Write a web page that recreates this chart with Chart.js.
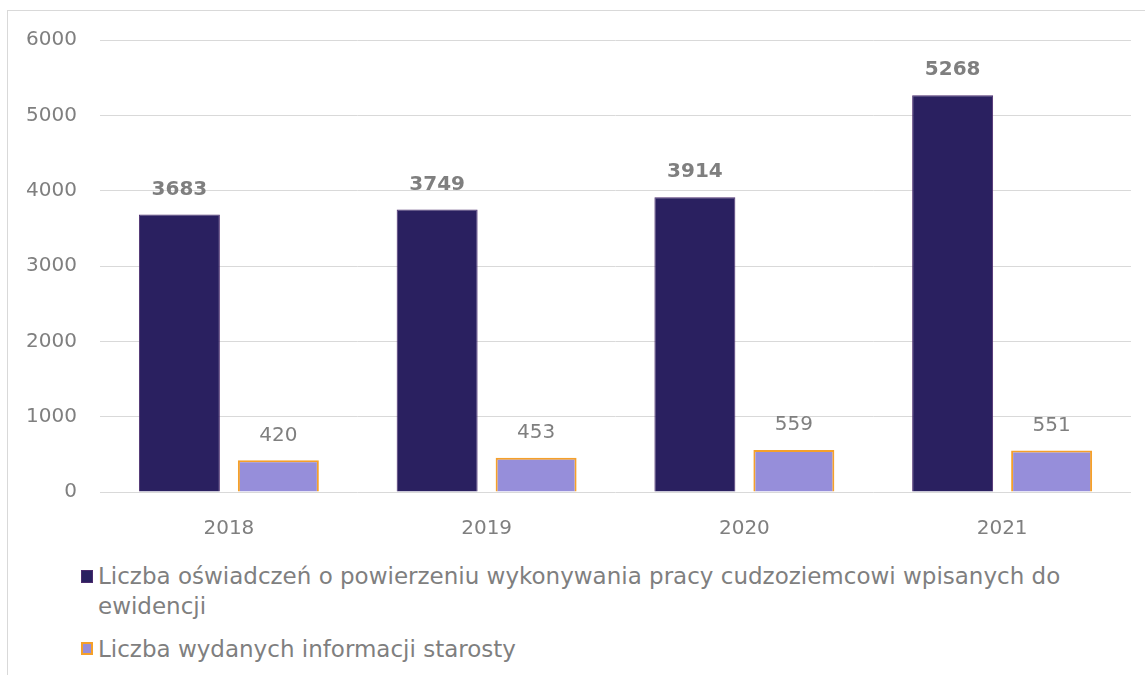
<!DOCTYPE html>
<html>
<head>
<meta charset="utf-8">
<script src="https://cdn.jsdelivr.net/npm/chart.js@4"></script>
<style>
  html, body { margin: 0; padding: 0; background: #fff; overflow: hidden; }
  body { width: 1145px; height: 675px; position: relative; font-family: "DejaVu Sans", sans-serif; }
  .lineTop { position: absolute; left: 7px; top: 10px; width: 1138px; height: 1px; background: #d9d9d9; }
  .lineLeft { position: absolute; left: 7px; top: 10px; width: 1px; height: 665px; background: #d9d9d9; }
  #wrap { position: absolute; left: 0; top: 0; width: 1145px; height: 540px; }
  .leg { position: absolute; left: 81px; color: #7f7f7f; font-size: 23px; line-height: 30px; white-space: nowrap; }
  .box { position: absolute; left: 0; width: 12px; height: 13px; box-sizing: border-box; }
  .txt { position: absolute; left: 17px; top: 0; }
</style>
</head>
<body>
<div class="lineTop"></div>
<div class="lineLeft"></div>
<div id="wrap"><canvas id="myChart" width="1145" height="540"></canvas></div>
<div class="leg" style="top:561px;">
  <div class="box" style="top:9px; background:#2a2060; border:1px solid #4b2c6e;"></div>
  <div class="txt" id="leg1"></div>
</div>
<div class="leg" style="top:634px;">
  <div class="box" style="top:8px; background:#968eda; border:2px solid #f5a02a;"></div>
  <div class="txt" id="leg2"></div>
</div>
<script>
const lata = ["2018", "2019", "2020", "2021"];
const oswiadczenia = [3683, 3749, 3914, 5268];
const informacje = [420, 453, 559, 551];
const nazwy = [
  "Liczba oświadczeń o powierzeniu wykonywania pracy cudzoziemcowi wpisanych do\newidencji",
  "Liczba wydanych informacji starosty",
];
const skalaY = [0, 1000, 2000, 3000, 4000, 5000, 6000];

document.getElementById("leg1").innerHTML = nazwy[0].replace("\n", "<br>");
document.getElementById("leg2").innerHTML = nazwy[1];

// etykiety wartosci nad slupkami
const etykiety = {
  id: "etykiety",
  afterDatasetsDraw(chart) {
    const ctx = chart.ctx;
    chart.data.datasets.forEach(function (ds, i) {
      const meta = chart.getDatasetMeta(i);
      ctx.save();
      ctx.fillStyle = "#7f7f7f";
      ctx.font = (i === 0 ? "bold " : "") + "20px 'DejaVu Sans'";
      ctx.textAlign = "center";
      ctx.textBaseline = "middle";
      meta.data.forEach(function (bar, j) {
        ctx.fillText(ds.data[j], bar.x, bar.y - 25);
      });
      ctx.restore();
    });
  },
};

const el = document.getElementById("myChart");

new Chart(el, {
  type: "bar",
  data: {
    labels: lata,
    datasets: [
      {
        label: nazwy[0],
        data: oswiadczenia,
        backgroundColor: "#2a2060",
        borderColor: "#4b2c6e",
        borderWidth: 1,
      },
      {
        label: nazwy[1],
        data: informacje,
        backgroundColor: "#968eda",
        borderColor: "#f5a02a",
        borderWidth: 2,
      },
    ],
  },
  options: {
    responsive: false,
    animation: false,
    categoryPercentage: 0.768,
    barPercentage: 0.818,
    layout: { padding: { left: 0, top: 40, right: 14, bottom: 0 } },
    scales: {
      x: {
        grid: { display: false },
        border: { display: false },
        ticks: { color: "#7f7f7f", padding: 17, font: { size: 20, family: "DejaVu Sans" } },
        afterFit: function (s) { s.height = 48; },
      },
      y: {
        min: 0,
        max: 6000,
        afterBuildTicks: function (s) { s.ticks = skalaY.map(function (v) { return { value: v }; }); },
        grid: { color: "#d9d9d9", lineWidth: 1, drawTicks: false },
        border: { display: false },
        ticks: {
          color: "#7f7f7f",
          padding: 23,
          font: { size: 20, family: "DejaVu Sans" },
          callback: function (v) { return String(v); },
        },
        afterFit: function (s) { s.width = 100; },
      },
    },
    plugins: {
      legend: { display: false },
      tooltip: { enabled: false },
    },
  },
  plugins: [etykiety],
});
</script>
</body>
</html>
